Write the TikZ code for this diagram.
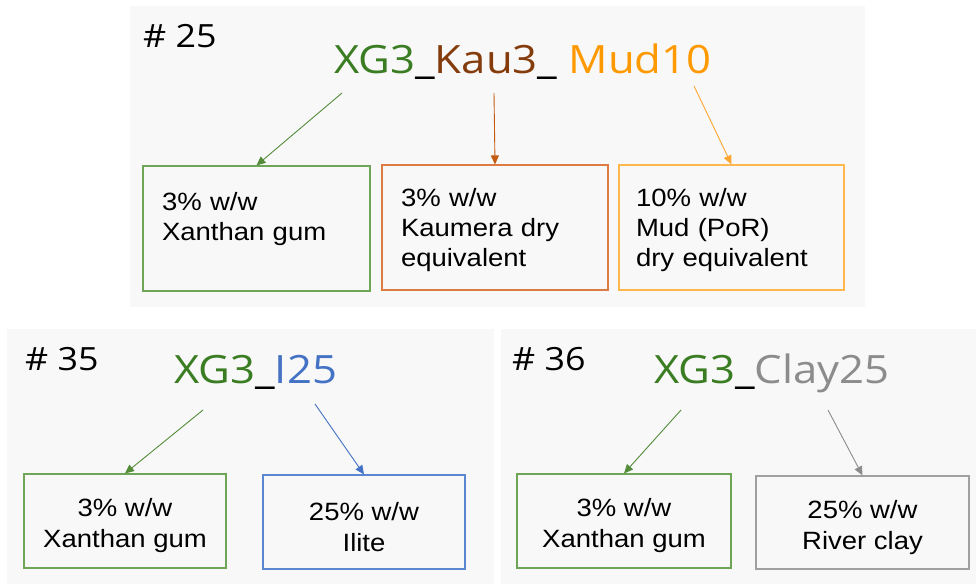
\documentclass[tikz,border=0pt]{standalone}
\usepackage{fontspec}
\usetikzlibrary{arrows.meta}
\newfontfamily\titlefont[FakeStretch=1.12]{Open Sans}
\newfontfamily\boxfont[FakeStretch=1.1]{Liberation Sans}
\definecolor{panelbg}{HTML}{F8F8F8}
\definecolor{tgreen}{HTML}{3B7D23}
\definecolor{agreen}{HTML}{548C3A}
\definecolor{bgreen}{HTML}{6FA556}
\definecolor{tbrown}{HTML}{843C0C}
\definecolor{abrown}{HTML}{C55A11}
\definecolor{bbrown}{HTML}{DE7B45}
\definecolor{torange}{HTML}{FF9900}
\definecolor{aorange}{HTML}{FFA630}
\definecolor{borange}{HTML}{FFB84D}
\definecolor{tblue}{HTML}{4472C4}
\definecolor{bblue}{HTML}{5B87D0}
\definecolor{tgray}{HTML}{8C8C8C}
\definecolor{bgray}{HTML}{A0A0A0}
\newcommand{\topstrut}[1]{\rule{0pt}{#1}}
\begin{document}
\begin{tikzpicture}[x=1pt,y=-1pt,
  hdr/.style={anchor=base west,inner sep=0pt,font=\titlefont\fontsize{32}{38}\selectfont},
  ttl/.style={anchor=base west,inner sep=0pt,font=\titlefont\fontsize{39}{46}\selectfont},
  lbox/.style={draw=#1,line width=1.1pt,fill=panelbg,align=left,inner xsep=19pt,
    font=\boxfont\fontsize{25}{30}\selectfont},
  cbox/.style={draw=#1,line width=1.1pt,fill=panelbg,align=center,inner sep=0pt,
    font=\boxfont\fontsize{25}{31}\selectfont},
  conn/.style={draw=#1,line width=0.9pt,-{Triangle[length=9pt,width=8pt]}}
]
\useasboundingbox (0,0) rectangle (976,584);
% panels
\fill[panelbg] (130,6) rectangle (865,307);
\fill[panelbg] (7,329) rectangle (494,584);
\fill[panelbg] (501,329) rectangle (976,584);

% ---- #25
\node[hdr] (h25) at (143,47) {\# 25};
\node[ttl] (t25) at (334,73) {\textcolor{tgreen}{XG3}\_\textcolor{tbrown}{Kau3}\_ \textcolor{torange}{Mud10}};
\node[lbox=bgreen,text width=189pt,minimum width=227pt,minimum height=125pt] (b25a) at (256.5,228.5)
  {\topstrut{23pt}3\% w/w\\Xanthan gum\\\mbox{}};
\node[lbox=bbrown,text width=188pt,minimum width=226pt,minimum height=125pt] (b25b) at (495,227.5)
  {\topstrut{23pt}3\% w/w\\Kaumera dry\\equivalent};
\node[lbox=borange,inner xsep=17pt,text width=191pt,minimum width=225pt,minimum height=125pt] (b25c) at (731.5,227.5)
  {\topstrut{23pt}10\% w/w\\Mud (PoR)\\dry equivalent};
\coordinate (s25a) at (342,93);
\coordinate (s25b) at (494,93);
\coordinate (s25c) at (694,86);
\draw[conn=agreen] (s25a) -- (b25a.north);
\draw[conn=abrown] (s25b) -- (b25b.north);
\draw[conn=aorange] (s25c) -- (b25c.north);

% ---- #35
\node[hdr] (h35) at (25,370) {\# 35};
\node[ttl] (t35) at (174,383) {\textcolor{tgreen}{XG3}\_\textcolor{tblue}{I25}};
\node[cbox=bgreen,minimum width=202pt,minimum height=94pt] (b35a) at (125,521)
  {\topstrut{28pt}3\% w/w\\Xanthan gum};
\node[cbox=bblue,minimum width=202pt,minimum height=94pt] (b35b) at (364,522)
  {\topstrut{28pt}25\% w/w\\Ilite};
\coordinate (s35a) at (203,410);
\coordinate (s35b) at (315,404);
\draw[conn=agreen] (s35a) -- (b35a.north);
\draw[conn=tblue] (s35b) -- (b35b.north);

% ---- #36
\node[hdr] (h36) at (512,370) {\# 36};
\node[ttl] (t36) at (654,383) {\textcolor{tgreen}{XG3}\_\textcolor{tgray}{Clay25}};
\node[cbox=bgreen,minimum width=214pt,minimum height=94pt] (b36a) at (624,521)
  {\topstrut{28pt}3\% w/w\\Xanthan gum};
\node[cbox=bgray,minimum width=213pt,minimum height=93pt] (b36b) at (862.5,522.5)
  {\topstrut{28pt}25\% w/w\\River clay};
\coordinate (s36a) at (681,410);
\coordinate (s36b) at (828,410);
\draw[conn=agreen] (s36a) -- (b36a.north);
\draw[conn=tgray] (s36b) -- (b36b.north);
\end{tikzpicture}
\end{document}
